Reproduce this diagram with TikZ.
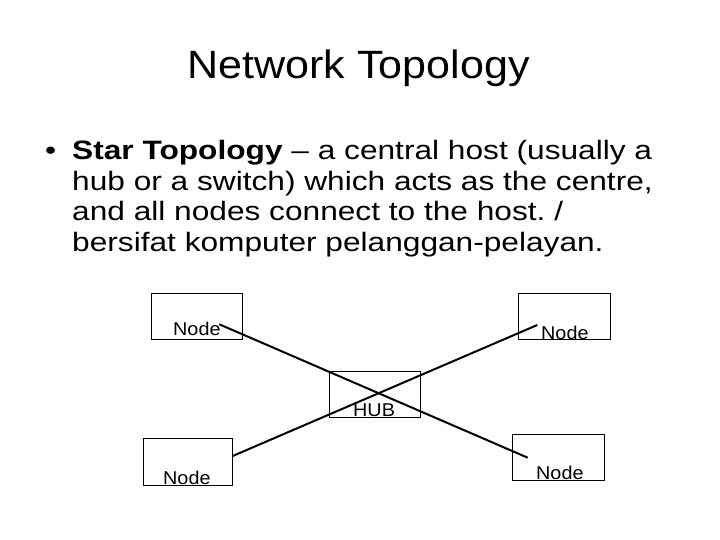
\documentclass[tikz,border=0pt]{standalone}
\usepackage{fontspec}
\setmainfont{Liberation Sans}
\newfontfamily\titlefont{Liberation Sans}[FakeStretch=1.09]
\newfontfamily\bodyfont{Liberation Sans}[FakeStretch=1.19]
\newfontfamily\boxfont{Liberation Sans}[FakeStretch=1.07]
\frenchspacing
\begin{document}
\begin{tikzpicture}[x=1pt,y=-1pt,
  box/.style={draw=black, line width=0.9pt, inner sep=0pt, anchor=north west},
  boxlabel/.style={inner sep=0pt, anchor=base west, font=\boxfont\fontsize{18.5}{20}\selectfont},
  bodyline/.style={inner sep=0pt, anchor=base west, font=\bodyfont\fontsize{26.6}{30}\selectfont},
  link/.style={line width=2pt, black}]
\useasboundingbox[fill=white] (0,0) rectangle (720,540);
% title
\node[inner sep=0pt, anchor=base, font=\titlefont\fontsize{39.5}{44}\selectfont] (title) at (358.5,79) {Network Topology};
% bullet text
\node[bodyline] (bullet) at (45,160) {\textbullet};
\node[bodyline] (l1) at (72,160) {\textbf{Star Topology} – a central host (usually a};
\node[bodyline] (l2) at (72,190.5) {hub or a switch) which acts as the centre,};
\node[bodyline] (l3) at (72,221) {and all nodes connect to the host.\ /};
\node[bodyline] (l4) at (72,251.5) {bersifat komputer pelanggan-pelayan.};
% boxes
\node[box, minimum width=91.6pt, minimum height=45.7pt] (tl) at (150.7,293.3) {};
\node[box, minimum width=92pt, minimum height=46pt] (tr) at (518,293) {};
\node[box, minimum width=91.3pt, minimum height=46pt] (hub) at (328.7,371) {};
\node[box, minimum width=89.3pt, minimum height=47pt] (bl) at (142.7,438) {};
\node[box, minimum width=92pt, minimum height=46pt] (br) at (512,434) {};
% labels
\node[boxlabel] (tltext) at (173,335) {Node};
\node[boxlabel] (trtext) at (541,339) {Node};
\node[boxlabel] (hubtext) at (353,416) {HUB};
\node[boxlabel] (bltext) at (163,484) {Node};
\node[boxlabel] (brtext) at (536,479) {Node};
% connector ends
\coordinate (c1a) at (219.3,324.3);
\coordinate (c1b) at (527.7,457.7);
\coordinate (c2a) at (537.3,325);
\coordinate (c2b) at (232.7,456);
\draw[link] (c1a) -- (c1b);
\draw[link] (c2a) -- (c2b);
\end{tikzpicture}
\end{document}
